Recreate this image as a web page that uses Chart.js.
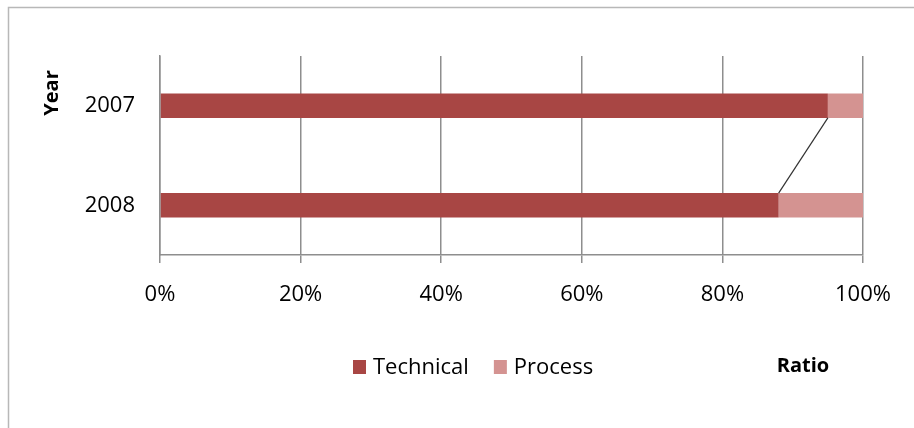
<!DOCTYPE html>
<html>
<head>
<meta charset="utf-8">
<script src="https://cdn.jsdelivr.net/npm/chart.js@4/dist/chart.umd.min.js"></script>
<style>
html,body{margin:0;padding:0;background:#fff;}
#wrap{width:914px;height:428px;position:relative;}
</style>
</head>
<body>
<div id="wrap"><canvas id="c" width="914" height="428"></canvas></div>
<script>
const categories = ["2007", "2008"];
const technical = [95, 88];
const processVals = [5, 12];
const xTicks = [0, 20, 40, 60, 80, 100];
const seriesNames = ["Technical", "Process"];
const yTitle = "Year";
const xTitle = "Ratio";

const FONT = "'Open Sans', 'DejaVu Sans', sans-serif";
const GRID = "#8e8e8e";

const decor = {
  id: "decor",
  beforeDraw(chart) {
    const ctx = chart.ctx;
    ctx.save();
    ctx.strokeStyle = "#b8b8b8";
    ctx.lineWidth = 1.5;
    ctx.beginPath();
    ctx.moveTo(8.5, 428);
    ctx.lineTo(8.5, 7.5);
    ctx.lineTo(914, 7.5);
    ctx.stroke();
    ctx.restore();
  },
  afterDatasetsDraw(chart) {
    const ctx = chart.ctx;
    const bars = chart.getDatasetMeta(0).data;
    ctx.save();
    ctx.strokeStyle = "#333";
    ctx.lineWidth = 1.2;
    ctx.beginPath();
    for (let i = 0; i < bars.length - 1; i++) {
      const a = bars[i], b = bars[i + 1];
      ctx.moveTo(a.x, a.y + a.height / 2);
      ctx.lineTo(b.x, b.y - b.height / 2);
    }
    ctx.stroke();
    ctx.restore();
  },
  afterDraw(chart) {
    const ctx = chart.ctx;
    ctx.save();
    ctx.font = "bold 20px " + FONT;
    ctx.fillStyle = "#000";
    ctx.textAlign = "center";
    ctx.textBaseline = "middle";
    ctx.translate(52, 93);
    ctx.rotate(-Math.PI / 2);
    ctx.fillText(yTitle, 0, 0);
    ctx.restore();

    ctx.save();
    ctx.font = "bold 20px " + FONT;
    ctx.fillStyle = "#000";
    ctx.textAlign = "center";
    ctx.textBaseline = "middle";
    ctx.fillText(xTitle, 803, 366);

    ctx.font = "22px " + FONT;
    ctx.textAlign = "left";
    let x = 353;
    chart.data.datasets.forEach((ds, i) => {
      ctx.fillStyle = ds.backgroundColor;
      ctx.fillRect(x, 360, 13, 14);
      ctx.fillStyle = "#000";
      ctx.fillText(ds.label, x + 20, 368);
      x += 20 + ctx.measureText(ds.label).width + 25;
    });
    ctx.restore();
  }
};

new Chart(document.getElementById("c"), {
  type: "bar",
  data: {
    labels: categories,
    datasets: [
      { label: seriesNames[0], data: technical, backgroundColor: "#a84644", categoryPercentage: 1, barPercentage: 0.245 },
      { label: seriesNames[1], data: processVals, backgroundColor: "#d49391", categoryPercentage: 1, barPercentage: 0.245 }
    ]
  },
  options: {
    indexAxis: "y",
    responsive: false,
    animation: false,
    layout: { padding: { left: 0, top: 56, right: 51, bottom: 0 } },
    plugins: { legend: { display: false }, tooltip: { enabled: false }, title: { display: false } },
    scales: {
      x: {
        stacked: true,
        min: 0,
        max: 100,
        afterBuildTicks(scale) { scale.ticks = xTicks.map(v => ({ value: v })); },
        afterFit(scale) { scale.height = 173; },
        grid: { color: GRID, lineWidth: 1.5, tickLength: 8, drawTicks: true },
        border: { color: GRID, width: 1.5 },
        ticks: {
          padding: 19,
          color: "#000",
          font: { family: FONT, size: 22 },
          callback: v => v + "%"
        }
      },
      y: {
        stacked: true,
        afterFit(scale) { scale.width = 160; },
        grid: { display: false, drawTicks: false },
        border: { display: true, color: GRID, width: 1.5 },
        ticks: {
          padding: 25,
          color: "#000",
          font: { family: FONT, size: 22 }
        }
      }
    }
  },
  plugins: [decor]
});
</script>
</body>
</html>
